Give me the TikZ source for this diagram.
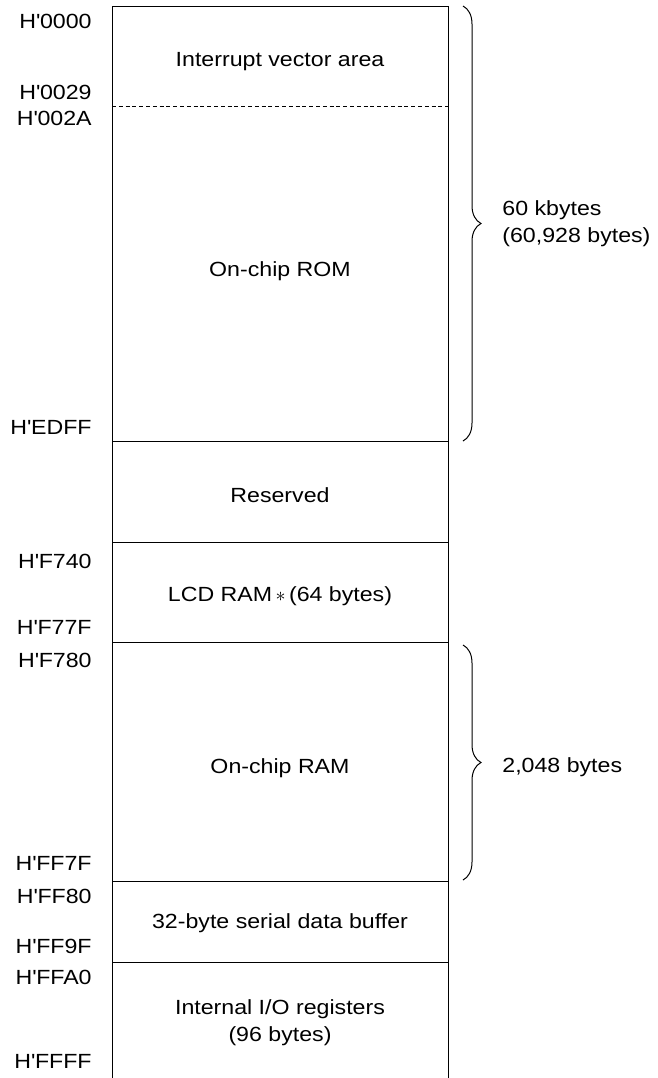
\documentclass[tikz,border=0pt]{standalone}
\usepackage{fontspec}
\setmainfont{Liberation Sans}[FakeStretch = 1.13]
\usetikzlibrary{positioning, decorations.pathreplacing}

\begin{document}
\begin{tikzpicture}[
    x = 0.5pt, y = -0.5pt,
    font = \fontsize{10.25}{13.6}\selectfont,
    frame/.style = {
      draw, line width = 0.5pt
    },
    area/.style = {
      align = center, inner sep = 0pt
    },
    addr/.style = {
      anchor = east, inner sep = 0pt
    },
    size/.style = {
      anchor = west, align = left, inner sep = 0pt
    },
    bytebrace/.style = {
      draw, line width = 0.5pt, decorate,
      decoration = {brace, amplitude = 9pt}
    },
    ]
    \useasboundingbox (0,0) rectangle (658,1078);

    % corners of the memory map (open at the bottom)
    \coordinate  (tl)  at  (112,6);
    \coordinate  (tr)  at  (448,6);
    \coordinate  (bl)  at  (112,1078);
    \coordinate  (br)  at  (448,1078);
    \draw  [frame]  (bl)  --  (tl)  --  (tr)  --  (br);

    % draw separators
    \draw  [frame, dash pattern = on 2pt off 1.4pt]  (112,106)  --  (448,106);
    \foreach \y in {441, 542, 642, 881, 962}
    \draw  [frame]  (112,\y)  --  (448,\y);

    % draw area names
    \node  [area]  (vect)  at  (280,62)   {Interrupt vector area};
    \node  [area]  (rom)   at  (280,271)  {On-chip ROM};
    \node  [area]  (resv)  at  (280,495)  {Reserved};
    \node  [area]  (lcd)   at  (280,596)  {LCD RAM\,$\ast$\,(64 bytes)};
    \node  [area]  (ram)   at  (280,768)  {On-chip RAM};
    \node  [area]  (sbuf)  at  (280,923)  {32-byte serial data buffer};
    \node  [area]  (regs)  at  (280,1023) {Internal I/O registers\\(96 bytes)};

    % draw addresses
    \foreach \y/\a in {21/0000, 92/0029, 118/002A, 427/EDFF, 561/F740, 627/F77F,
                       660/F780, 863/FF7F, 896/FF80, 946/FF9F, 977/FFA0, 1061/FFFF}
    \node  [addr]  (a\a)  at  (92,\y)  {H\textquotesingle\a};

    % draw braces with sizes
    \coordinate  (romtop)  at  (463,6);
    \coordinate  (rombot)  at  (463,441);
    \coordinate  (ramtop)  at  (463,645);
    \coordinate  (rambot)  at  (463,880);
    \draw  [bytebrace]  (romtop)  --  (rombot);
    \draw  [bytebrace]  (ramtop)  --  (rambot);
    \node  [size]  (romsize)  at  (502,224)  {60 kbytes\\(60,928 bytes)};
    \node  [size]  (ramsize)  at  (502,767)  {2,048 bytes};
\end{tikzpicture}
\end{document}
